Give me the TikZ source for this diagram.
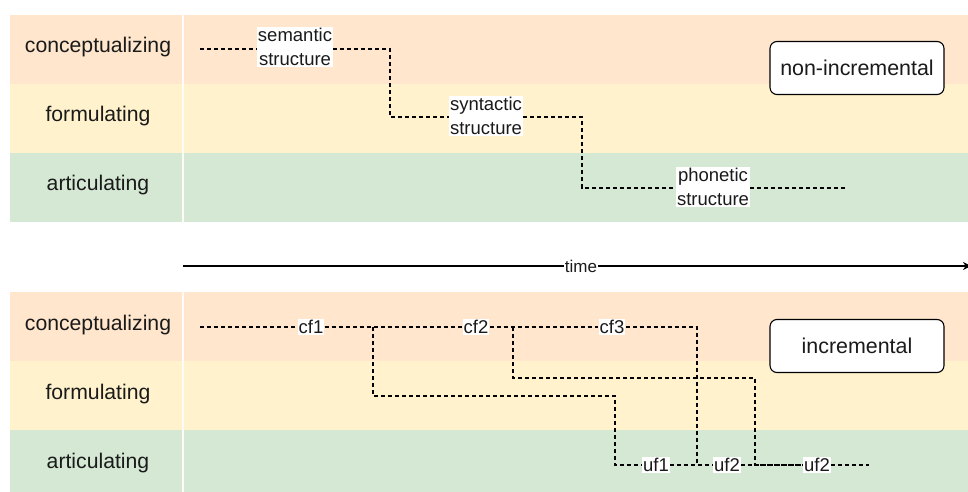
\documentclass[tikz,border=0pt]{standalone}
\usepackage{fontspec}
\setmainfont{Liberation Sans}
\usetikzlibrary{arrows.meta}
\definecolor{concept}{HTML}{FFE6CC}
\definecolor{formul}{HTML}{FFF2CC}
\definecolor{artic}{HTML}{D5E8D4}
\definecolor{ink}{HTML}{1A1A1A}
\tikzset{
  rowlabel/.style={font=\fontsize{21.2}{24}\selectfont, text=ink},
  stage/.style={fill=white, inner sep=1pt, font=\fontsize{18.5}{23.5}\selectfont,
    text=ink, align=center},
  flow/.style={draw=black, line width=1.2pt, dash pattern=on 4pt off 3pt},
  modebox/.style={draw=black, line width=1.1pt, rounded corners=7pt, fill=white,
    minimum width=174pt, minimum height=53pt, font=\fontsize{21.4}{24}\selectfont,
    text=ink},
  sep/.style={draw=white!85!concept, line width=2pt}
}
\begin{document}
\begin{tikzpicture}[x=1pt, y=-1pt]
\useasboundingbox (0,0) rectangle (968,492);
% ---- background lanes ----
\fill[concept] (10,15) rectangle (968,84);
\fill[formul]  (10,84) rectangle (968,153);
\fill[artic]   (10,153) rectangle (968,222);
\fill[concept] (10,292) rectangle (968,361);
\fill[formul]  (10,361) rectangle (968,430);
\fill[artic]   (10,430) rectangle (968,499);
\draw[sep] (183,15) -- (183,222);
\draw[sep] (183,292) -- (183,492);
% ---- lane labels ----
\node[rowlabel] (tc) at (98,47)  {conceptualizing};
\node[rowlabel] (tf) at (98,116) {formulating};
\node[rowlabel] (ta) at (98,185) {articulating};
\node[rowlabel] (bc) at (98,325) {conceptualizing};
\node[rowlabel] (bf) at (98,394) {formulating};
\node[rowlabel] (ba) at (98,463) {articulating};
% ---- time axis ----
\coordinate (t0) at (183,266);
\coordinate (t1) at (971,266);
\draw[line width=1.2pt, -{Stealth[length=8pt,width=8pt]}] (t0) -- (t1);
\node[fill=white, inner sep=0.5pt, font=\fontsize{17}{19}\selectfont, text=ink]
  (time) at (581,266) {time};
% ---- non-incremental processing ----
\node[modebox] (nonincr) at (857,68) {non-incremental};
\node[stage] (sem) at (295,47)  {semantic\\structure};
\node[stage] (syn) at (486,116) {syntactic\\structure};
\node[stage] (pho) at (713,187) {phonetic\\structure};
\coordinate (a0) at (200,49);
\coordinate (a1) at (390,117);
\coordinate (a2) at (582,188);
\coordinate (a3) at (845,188);
\draw[flow] (a0) -- (a0 -| sem.west);
\draw[flow] (sem.east |- a0) -| (a1) -- (a1 -| syn.west);
\draw[flow] (syn.east |- a1) -| (a2) -- (a2 -| pho.west);
\draw[flow] (pho.east |- a2) -- (a3);
% ---- incremental processing ----
\node[modebox] (incr) at (857,346) {incremental};
\node[stage] (cf1) at (311,327) {cf1};
\node[stage] (cf2) at (476,327) {cf2};
\node[stage] (cf3) at (612,327) {cf3};
\node[stage] (uf1) at (656,465) {uf1};
\node[stage] (uf2) at (727,465) {uf2};
\node[stage] (uf3) at (817,465) {uf2};
\coordinate (b0) at (200,327);
\coordinate (br1) at (373,327);
\coordinate (br2) at (513,327);
\coordinate (m1) at (615,396);
\coordinate (m2) at (755,378);
\coordinate (j1) at (697,465);
\coordinate (e1) at (869,465);
\draw[flow] (b0) -- (cf1);
\draw[flow] (cf1) -- (cf2);
\draw[flow] (cf2) -- (cf3);
\draw[flow] (cf3) -| (j1);
\draw[flow] (br1) |- (m1) |- (uf1);
\draw[flow] (br2) |- (m2) |- (uf3);
\draw[flow] (uf1) -- (uf2);
\draw[flow] (uf2) -- (uf3);
\draw[flow] (uf3) -- (e1);
\end{tikzpicture}
\end{document}
